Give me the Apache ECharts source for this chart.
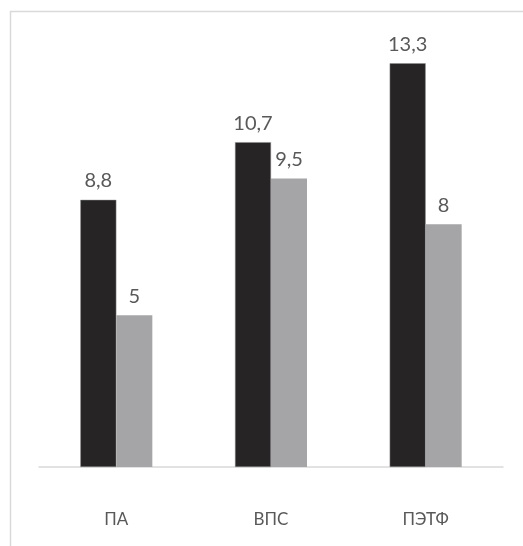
<!DOCTYPE html>
<html>
<head>
<meta charset="utf-8">
<script src="https://cdn.jsdelivr.net/npm/echarts@6/dist/echarts.min.js"></script>
<style>
  html, body { margin: 0; padding: 0; background: #fff; }
  #chart { width: 523px; height: 546px; }
</style>
</head>
<body>
<div id="chart"></div>
<script>
// Categories and the two value series
const categories = ['ПА', 'ВПС', 'ПЭТФ'];
const seriesDark = [8.8, 10.7, 13.3];
const seriesLight = [5, 9.5, 8];

const fmt = p => String(p.value).replace('.', ',');
const labelStyle = {
  show: true,
  position: 'top',
  distance: 9,
  color: '#595959',
  fontFamily: 'Lato, "Open Sans", sans-serif',
  fontSize: 20,
  formatter: fmt
};

const chart = echarts.init(document.getElementById('chart'));
chart.setOption({
  animation: false,
  backgroundColor: '#ffffff',
  graphic: [{
    type: 'rect',
    shape: { x: 10.5, y: 11.5, width: 540, height: 560 },
    style: { fill: 'none', stroke: '#d9d9d9', lineWidth: 1.5 },
    silent: true
  }],
  grid: { left: 39, right: 20, top: 42, bottom: 79, containLabel: false },
  xAxis: {
    type: 'category',
    data: categories,
    axisLine: { show: true, lineStyle: { color: '#d9d9d9', width: 1.5 } },
    axisTick: { show: false },
    axisLabel: {
      margin: 44,
      color: '#595959',
      fontFamily: 'Lato, "Open Sans", sans-serif',
      fontSize: 17
    }
  },
  yAxis: {
    type: 'value',
    min: 0,
    max: 14,
    show: false,
    splitLine: { show: false }
  },
  series: [
    {
      type: 'bar',
      data: seriesDark,
      barWidth: 36,
      barGap: '0%',
      itemStyle: { color: '#262425', borderColor: '#8c8c8c', borderWidth: 0.5 },
      label: labelStyle
    },
    {
      type: 'bar',
      data: seriesLight,
      barWidth: 36,
      itemStyle: { color: '#a5a5a7' },
      label: labelStyle
    }
  ]
});
</script>
</body>
</html>
